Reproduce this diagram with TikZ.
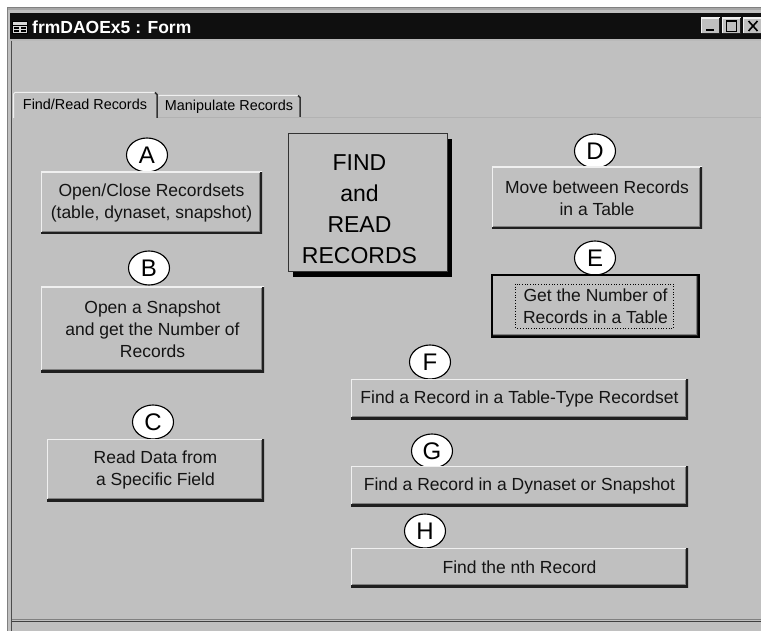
\documentclass[tikz,border=0pt]{standalone}
\usepackage{fontspec}
\setmainfont{Liberation Sans}
\usetikzlibrary{shapes.geometric,shadows}

\definecolor{face}{gray}{0.753}
\definecolor{midedge}{gray}{0.50}
\definecolor{dkedge}{gray}{0.12}
\definecolor{hilite}{gray}{0.94}
\definecolor{titlebg}{gray}{0.06}

\newcommand\btnfont{\fontsize{17.5}{22}\selectfont}
\newcommand\tabfont{\fontsize{14.4}{17}\selectfont}
\newcommand\lblfont{\fontsize{24}{26}\selectfont}
\newcommand\headfont{\fontsize{23}{31}\selectfont}

\tikzset{
  % raised Windows-classic push button
  winbtn/.style={rectangle, fill=face, inner sep=0pt, outer sep=0pt,
    font=\btnfont, align=center, text=black!92,
    path picture={
      \draw[hilite, line width=2pt]
        (path picture bounding box.south west) --
        (path picture bounding box.north west) --
        (path picture bounding box.north east);
      \draw[dkedge, line width=3.5pt]
        (path picture bounding box.north east) --
        (path picture bounding box.south east) --
        (path picture bounding box.south west);
      \draw[midedge, line width=1pt]
        ([xshift=-2.3pt,yshift=-1pt]path picture bounding box.north east) --
        ([xshift=-2.3pt,yshift=2.3pt]path picture bounding box.south east) --
        ([xshift=1pt,yshift=2.3pt]path picture bounding box.south west);
    }},
  % circled letter tag
  tag/.style={ellipse, draw=black, line width=1.1pt, fill=white,
    minimum width=41pt, minimum height=34pt, inner sep=0pt, font=\lblfont},
  % caption box with hard drop shadow
  headbox/.style={rectangle, draw=black!80, line width=1pt, fill=face,
    inner sep=0pt, drop shadow={shadow xshift=5pt, shadow yshift=-5pt,
    fill=black, opacity=1}},
  capbtn/.style={rectangle, fill=face, inner sep=0pt, minimum width=19pt,
    minimum height=16pt,
    path picture={
      \draw[hilite, line width=2pt]
        (path picture bounding box.south west) --
        (path picture bounding box.north west) --
        (path picture bounding box.north east);
      \draw[dkedge, line width=2.5pt]
        (path picture bounding box.north east) --
        (path picture bounding box.south east) --
        (path picture bounding box.south west);
    }},
}

\begin{document}
\begin{tikzpicture}[x=1pt,y=-1pt]
\useasboundingbox (0,0) rectangle (761,631);
\clip (0,0) rectangle (761,631);
\fill[white] (0,0) rectangle (761,631);

% ---- window frame ----
\fill[face] (7,7) rectangle (780,640);
\draw[gray!70, line width=2pt] (7,9) -- (780,9);
\draw[midedge, line width=1pt] (7.5,640) -- (7.5,7.5) -- (780,7.5);
\fill[titlebg] (10,13) rectangle (780,39);
\draw[gray!55, line width=1.5pt] (10,40) -- (780,40);
\draw[black!70, line width=1pt] (11.5,41) -- (11.5,640);

% title bar icon and caption
\fill[gray!30] (12,21) rectangle (28,34);
\draw[black, line width=0.8pt] (12.5,21.5) rectangle (27.5,33.5);
\draw[black, line width=0.8pt] (12.5,25) -- (27.5,25);
\fill[black] (14,27) rectangle (19,29);
\fill[black] (21,27) rectangle (26,29);
\fill[black] (14,30.5) rectangle (19,32);
\fill[black] (21,30.5) rectangle (26,32);
\node[anchor=base west, inner sep=0pt, text=white,
      font=\fontsize{17.5}{20}\selectfont\bfseries] (caption) at (32,34)
      {frmDAOEx5 : Form};

% caption buttons
\node[capbtn] (minbtn) at (710.5,26) {};
\node[capbtn] (maxbtn) at (731.5,26) {};
\node[capbtn] (closebtn) at (752.5,26) {};
\fill[black] ([xshift=-5pt,yshift=-3pt]minbtn.center) rectangle ([xshift=3pt,yshift=-5.5pt]minbtn.center);
\draw[black, line width=1pt] ([xshift=-5pt,yshift=5pt]maxbtn.center) rectangle ([xshift=5pt,yshift=-6pt]maxbtn.center);
\draw[black, line width=1.5pt] ([xshift=-5pt,yshift=4.5pt]maxbtn.center) -- ([xshift=5pt,yshift=4.5pt]maxbtn.center);
\draw[black, line width=1.6pt] ([xshift=-4pt,yshift=5pt]closebtn.center) -- ([xshift=5pt,yshift=-5pt]closebtn.center);
\draw[black, line width=1.6pt] ([xshift=-4pt,yshift=-5pt]closebtn.center) -- ([xshift=5pt,yshift=5pt]closebtn.center);

% ---- tab control ----
\draw[gray!60, line width=1pt] (157,117.5) -- (780,117.5);
\draw[black!75, line width=1.5pt] (12,621.5) -- (780,621.5);
\draw[midedge, line width=1pt] (12,619.8) -- (780,619.8);
% selected tab
\draw[hilite, line width=1pt] (13.5,118) -- (13.5,94) -- (15,92.5) -- (155,92.5);
\draw[black!80, line width=1.5pt] (155,92.5) -- (157,94.5) -- (157,118);
\node[anchor=base, inner sep=0pt, font=\tabfont] (tabfind) at (85,110) {Find/Read Records};
% second tab
\draw[hilite, line width=1pt] (158.5,96) -- (160,95.5) -- (298,95.5);
\draw[black!80, line width=1.5pt] (298,95.5) -- (300,97.5) -- (300,117);
\node[anchor=base, inner sep=0pt, font=\tabfont] (tabmanip) at (229,111) {Manipulate Records};

% ---- heading box ----
\node[headbox, minimum width=159pt, minimum height=138pt] (head) at (367.5,203) {};
\node[inner sep=0pt, align=center, font=\headfont] (headtext)
  at ([xshift=-8pt,yshift=-6pt]head.center) {FIND\\and\\READ\\RECORDS};

% ---- letter tags (drawn under the buttons) ----
\node[tag] (tA) at (147,155) {A};
\node[tag] (tB) at (149,268) {B};
\node[tag] (tC) at (153,422) {C};
\node[tag] (tD) at (595,151) {D};
\node[tag] (tE) at (595,258) {E};
\node[tag] (tF) at (430,362) {F};
\node[tag] (tG) at (432,451) {G};
\node[tag] (tH) at (425,531) {H};

% ---- command buttons ----
\node[winbtn, minimum width=221pt, minimum height=62pt] (bA) at (151.5,203)
  {Open/Close Recordsets\\(table, dynaset, snapshot)};
\node[winbtn, minimum width=223pt, minimum height=85pt] (bB) at (152.5,329.5)
  {Open a Snapshot\\and get the Number of\\Records};
\node[winbtn, minimum width=217pt, minimum height=62pt] (bC) at (155.5,470)
  {Read Data from\\a Specific Field};
\node[winbtn, minimum width=210pt, minimum height=62pt] (bD) at (597,198)
  {Move between Records\\in a Table};
\node[winbtn, minimum width=207pt, minimum height=62pt] (bE) at (595.5,306)
  {Get the Number of\\Records in a Table};
\draw[black, line width=1.5pt] (bE.north west) rectangle (bE.south east);
\draw[black, line width=0.7pt, dotted]
  ([xshift=-80pt,yshift=22pt]bE.center) rectangle ([xshift=78pt,yshift=-22pt]bE.center);
\node[winbtn, minimum width=337pt, minimum height=40pt] (bF) at (519.5,399)
  {Find a Record in a Table-Type Recordset};
\node[winbtn, minimum width=337pt, minimum height=40pt] (bG) at (519.5,486)
  {Find a Record in a Dynaset or Snapshot};
\node[winbtn, minimum width=337pt, minimum height=39pt] (bH) at (519.5,567.5)
  {Find the nth Record};
\end{tikzpicture}
\end{document}
